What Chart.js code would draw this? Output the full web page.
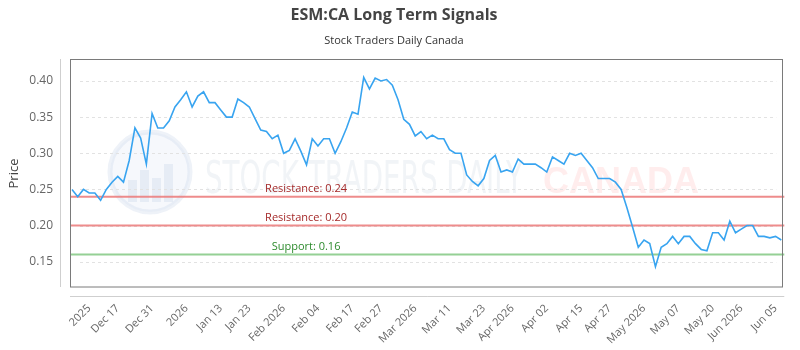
<!DOCTYPE html>
<html lang="en">
<head>
  <meta charset="UTF-8" />
  <title>ESM:CA Long Term Signals</title>
  <style>
  html, body {
    margin: 0;
    padding: 0;
    background: #fff;
  }
  .wrap {
    width: 800px;
    height: 350px;
  }
  </style>
  <script src="https://cdn.jsdelivr.net/npm/chart.js"></script>
</head>
<body>
  <div class="wrap"><canvas id="chart" width="800" height="350"></canvas></div>

  <script>
  // closing prices, one per trading day
  const prices = [
    0.250, 0.240, 0.250, 0.245, 0.245, 0.235, 0.250, 0.260, 0.268, 0.260,
    0.290, 0.335, 0.321, 0.285, 0.355, 0.335, 0.335, 0.345, 0.364, 0.374,
    0.385, 0.364, 0.379, 0.385, 0.370,
    0.370, 0.360, 0.350, 0.350, 0.375, 0.370, 0.364, 0.348, 0.332, 0.330,
    0.320, 0.325, 0.300, 0.304, 0.320, 0.303, 0.284, 0.320, 0.310, 0.320,
    0.320, 0.300, 0.316, 0.335, 0.357,
    0.354, 0.405, 0.389, 0.404, 0.400, 0.402, 0.394, 0.374, 0.347, 0.340,
    0.324, 0.330, 0.320, 0.325, 0.320, 0.320, 0.305, 0.300, 0.300, 0.270,
    0.261, 0.255, 0.265, 0.290, 0.297, 0.274,
    0.277, 0.274, 0.292, 0.285, 0.285, 0.285, 0.280, 0.274, 0.295, 0.290,
    0.285, 0.300, 0.297, 0.300, 0.290, 0.280, 0.265, 0.265, 0.265, 0.260,
    0.250, 0.225, 0.198, 0.170, 0.180,
    0.175, 0.143, 0.170, 0.175, 0.185, 0.175, 0.185, 0.185, 0.175, 0.167,
    0.165, 0.190, 0.190, 0.180, 0.206, 0.190, 0.195, 0.200, 0.200, 0.185,
    0.185, 0.183, 0.185, 0.180
  ];

  // x axis labels and the day index each one sits on
  const tickLabels = ['2025', 'Dec 17', 'Dec 31', '2026', 'Jan 13', 'Jan 23', 'Feb 2026', 'Feb 04',
    'Feb 17', 'Feb 27', 'Mar 2026', 'Mar 11', 'Mar 23', 'Apr 2026', 'Apr 02', 'Apr 15', 'Apr 27',
    'May 2026', 'May 07', 'May 20', 'Jun 2026', 'Jun 05'];
  const tickPos = [3, 8, 14, 20, 26, 31, 37, 43, 49, 54, 60, 66, 72, 77, 83, 89, 94, 100, 106, 112, 117, 123];

  // signal levels
  const levelValues = [0.24, 0.20, 0.16];
  const levelNames = ['Resistance: 0.24', 'Resistance: 0.20', 'Support: 0.16'];
  const levelKinds = ['res', 'res', 'sup'];

  const xLabels = prices.map((p, i) => {
    const k = tickPos.indexOf(i);
    return k >= 0 ? tickLabels[k] : '';
  });

  const FONT = "'Open Sans', 'DejaVu Sans', sans-serif";

  const decor = {
    id: 'decor',
    beforeDatasetsDraw(chart) {
      const { ctx, chartArea: a, scales: { y } } = chart;
      ctx.save();

      // watermark logo
      const cx = a.left + 78, cy = a.top + 112;
      ctx.beginPath();
      ctx.arc(cx, cy, 40, 0, Math.PI * 2);
      ctx.fillStyle = 'rgba(215,225,242,0.22)';
      ctx.fill();
      ctx.lineWidth = 5;
      ctx.strokeStyle = 'rgba(195,208,230,0.28)';
      ctx.stroke();
      ctx.fillStyle = 'rgba(190,203,225,0.28)';
      [[-22, 8, 9, 22], [-10, -2, 9, 32], [2, 6, 9, 24], [14, -8, 9, 38]].forEach(r => {
        ctx.fillRect(cx + r[0], cy + r[1], r[2], r[3]);
      });

      // watermark text
      ctx.textBaseline = 'alphabetic';
      ctx.textAlign = 'left';
      ctx.font = "44px 'Liberation Sans Narrow', 'DejaVu Sans', sans-serif";
      const t1 = 'STOCK TRADERS DAILY';
      const w1 = ctx.measureText(t1).width;
      ctx.save();
      ctx.translate(a.left + 133, a.top + 133);
      ctx.scale(318 / w1, 1);
      ctx.fillStyle = 'rgba(200,210,225,0.25)';
      ctx.fillText(t1, 0, 0);
      ctx.restore();
      ctx.font = "bold 36px 'Liberation Sans', Arial, sans-serif";
      ctx.fillStyle = 'rgba(255,165,165,0.2)';
      ctx.fillText('CANADA', a.left + 471, a.top + 133);

      // dashed grid
      ctx.strokeStyle = '#e2e2e2';
      ctx.lineWidth = 1;
      ctx.setLineDash([3, 3]);
      y.ticks.forEach(t => {
        const py = Math.round(y.getPixelForValue(t.value)) + 0.5;
        ctx.beginPath();
        ctx.moveTo(a.left + 8, py);
        ctx.lineTo(a.right - 5, py);
        ctx.stroke();
      });
      ctx.setLineDash([]);

      // level lines + labels
      ctx.font = '11px ' + FONT;
      ctx.textAlign = 'center';
      ctx.textBaseline = 'middle';
      levelValues.forEach((v, i) => {
        const py = y.getPixelForValue(v);
        const sup = levelKinds[i] === 'sup';
        ctx.strokeStyle = sup ? 'rgba(130,200,130,0.85)' : 'rgba(235,120,120,0.85)';
        ctx.lineWidth = 2;
        ctx.beginPath();
        ctx.moveTo(a.left - 2, py);
        ctx.lineTo(a.right + 3, py);
        ctx.stroke();
        ctx.fillStyle = sup ? '#2e8b2e' : '#a52a2a';
        ctx.fillText(levelNames[i], a.left + a.width * 0.33, py - 8);
      });
      ctx.restore();
    },
    afterDraw(chart) {
      const { ctx, chartArea: a } = chart;
      ctx.save();
      ctx.lineWidth = 1;
      // plot frame
      ctx.strokeStyle = '#7a7a7a';
      ctx.strokeRect(Math.round(a.left) - 1.5, Math.round(a.top) - 0.5,
        Math.round(a.width) + 3, Math.round(a.height) + 0.5);
      // offset axis lines
      ctx.strokeStyle = '#cfcfcf';
      ctx.beginPath();
      ctx.moveTo(Math.round(a.left) - 11.5, a.top - 1);
      ctx.lineTo(Math.round(a.left) - 11.5, a.bottom);
      ctx.moveTo(a.left - 2, Math.round(a.bottom) + 9.5);
      ctx.lineTo(a.right + 3, Math.round(a.bottom) + 9.5);
      ctx.stroke();
      ctx.restore();
    }
  };

  new Chart(document.getElementById('chart'), {
    type: 'line',
    data: {
      labels: xLabels,
      datasets: [{
        label: 'ESM:CA',
        data: prices,
        borderColor: '#38a4f0',
        borderWidth: 1.6,
        pointRadius: 0,
        tension: 0,
        fill: false
      }]
    },
    options: {
      responsive: false,
      animation: false,
      devicePixelRatio: 1,
      layout: { padding: { top: 0, right: 12, bottom: 0, left: 0 } },
      plugins: {
        legend: { display: false },
        tooltip: { enabled: false },
        title: {
          display: true,
          text: 'ESM:CA Long Term Signals',
          color: '#444',
          font: { family: FONT, size: 16, weight: 'bold' },
          padding: { top: 6, bottom: 4 }
        },
        subtitle: {
          display: true,
          text: 'Stock Traders Daily Canada',
          color: '#333',
          font: { family: FONT, size: 11 },
          padding: { top: 5, bottom: 12.6 }
        }
      },
      scales: {
        x: {
          grid: { display: false, drawTicks: false },
          border: { display: false },
          afterFit: s => { s.height = 63; },
          ticks: {
            autoSkip: false,
            minRotation: 45,
            maxRotation: 45,
            padding: 15,
            color: '#666',
            font: { family: FONT, size: 11 },
            callback: (v, i) => xLabels[i] || null
          }
        },
        y: {
          min: 0.115,
          max: 0.429,
          grid: { display: false, drawTicks: false },
          border: { display: false },
          afterFit: s => { s.width = 72; },
          title: {
            display: true,
            text: 'Price',
            color: '#444',
            font: { family: FONT, size: 13 },
            padding: { top: 6, bottom: 0 }
          },
          ticks: {
            stepSize: 0.05,
            includeBounds: false,
            padding: 19,
            color: '#666',
            font: { family: FONT, size: 12 },
            callback: v => v.toFixed(2)
          }
        }
      }
    },
    plugins: [decor]
  });
  </script>
</body>
</html>
